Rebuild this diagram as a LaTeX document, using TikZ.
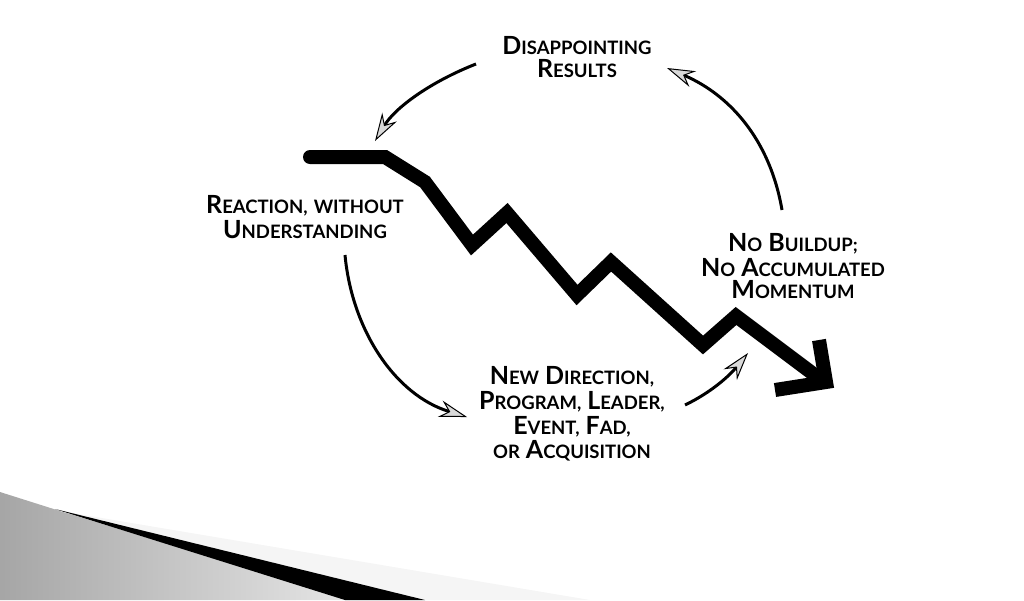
\documentclass[tikz,border=0pt]{standalone}
\usepackage{fontspec}
\setmainfont{Lato}
\usetikzlibrary{arrows.meta}
\newcommand\SCb[1]{{\fontsize{25}{24}\selectfont #1}}
\newcommand\SCs[1]{{\fontsize{18.5}{24}\selectfont #1}}
\newcommand\SP{\hspace{6pt}}
\begin{document}
\begin{tikzpicture}[x=1pt,y=-1pt,
  lbl/.style={align=center,font=\bfseries,inner sep=0pt},
  cyc/.style={line width=3pt,-{Stealth[open,length=28pt,width=17pt,line width=1pt,fill=gray!30]}}]
\useasboundingbox (0,0) rectangle (1024,600);
% bottom-left decoration
\shade[left color=gray!70,right color=gray!20] (0,492) -- (60,511) -- (350,600) -- (0,600) -- cycle;
\fill[gray!8] (60,511) -- (590,600) -- (400,600) -- cycle;
\fill[black] (55,509) -- (425,600) -- (345,600) -- cycle;
% zigzag
\coordinate (z0) at (310,157);
\draw[line width=14pt,line cap=round,line join=miter]
  (z0) -- (385,157) -- (425,182) -- (472,245) -- (507,213) -- (577,295) -- (611,262) -- (703,345) -- (736,316) -- (812,373) coordinate (zend);
\draw[line width=14pt,line join=miter] (819,340) -- (826,382) -- (775,390);
% labels
\node[lbl] (dr) at (577,57) {\SCb{D}\SCs{ISAPPOINTING}\\[3pt]\SCb{R}\SCs{ESULTS}};
\node[lbl] (ru) at (305,217) {\SCb{R}\SCs{EACTION,}\SP\SCs{WITHOUT}\\[3pt]\SCb{U}\SCs{NDERSTANDING}};
\node[lbl] (nb) at (793,266) {\SCb{N}\SCs{O}\SP\SCb{B}\SCs{UILDUP;}\\[3pt]\SCb{N}\SCs{O}\SP\SCb{A}\SCs{CCUMULATED}\\[3pt]\SCb{M}\SCs{OMENTUM}};
\node[lbl] (nd) at (572,414) {\SCb{N}\SCs{EW}\SP\SCb{D}\SCs{IRECTION,}\\[3pt]\SCb{P}\SCs{ROGRAM,}\SP\SCb{L}\SCs{EADER,}\\[3pt]\SCb{E}\SCs{VENT,}\SP\SCb{F}\SCs{AD,}\\[3pt]\SCs{OR}\SP\SCb{A}\SCs{CQUISITION}};
% cycle arrows
\coordinate (a1s) at (476,64); \coordinate (a1e) at (375,141);
\draw[cyc] (a1s) .. controls (430,82) and (395,108) .. (a1e);
\coordinate (a2s) at (345,255); \coordinate (a2e) at (467,417);
\draw[cyc] (a2s) .. controls (352,330) and (395,395) .. (a2e);
\coordinate (a3s) at (685,405); \coordinate (a3e) at (748,353);
\draw[cyc] (a3s) .. controls (712,392) and (730,375) .. (a3e);
\coordinate (a4s) at (782,210); \coordinate (a4e) at (667,68);
\draw[cyc] (a4s) .. controls (770,140) and (730,95) .. (a4e);
\end{tikzpicture}
\end{document}
